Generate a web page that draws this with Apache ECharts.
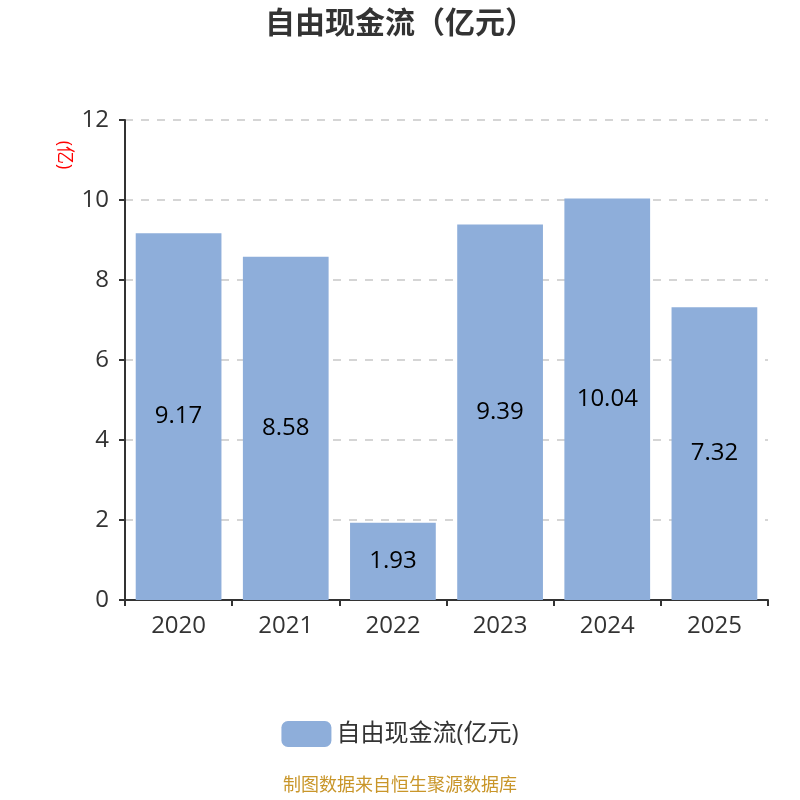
<!DOCTYPE html>
<html lang="zh-CN" style="height: 100%">
<head>
  <meta charset="utf-8">
</head>
<body style="height: 100%; margin: 0">
  <div id="container" style="width: 800px; height: 800px"></div>
  <script type="text/javascript" src="https://cdn.jsdelivr.net/npm/echarts@6/dist/echarts.min.js"></script>
  <script type="text/javascript">
    var years = ['2020', '2021', '2022', '2023', '2024', '2025'];
    var cashFlow = [9.17, 8.58, 1.93, 9.39, 10.04, 7.32];
    var seriesName = '自由现金流(亿元)';

    var myChart = echarts.init(document.getElementById('container'), null, { renderer: 'canvas' });
    var font = '"Open Sans", "Noto Sans CJK SC", sans-serif';

    var option = {
      animation: false,
      textStyle: { fontFamily: font },
      title: {
        text: '自由现金流（亿元）',
        left: 'center',
        top: 4,
        textStyle: { fontSize: 30, fontWeight: 'bold', color: '#333', fontFamily: font }
      },
      grid: { left: 125, right: 32, top: 120, bottom: 200 },
      legend: {
        bottom: 48,
        left: 'center',
        itemWidth: 50,
        itemHeight: 26,
        itemGap: 10,
        icon: 'roundRect',
        textStyle: { fontSize: 24, color: '#333', fontFamily: font },
        data: [seriesName]
      },
      graphic: [
        {
          type: 'text',
          x: 64, y: 155,
          rotation: -Math.PI / 2,
          style: { text: '(亿)', fill: '#ff0000', fontSize: 18, align: 'center', verticalAlign: 'middle', fontFamily: font }
        },
        {
          type: 'text',
          left: 'center',
          top: 777,
          style: { text: '制图数据来自恒生聚源数据库', fill: '#c9962a', fontSize: 18, fontFamily: font }
        }
      ],
      xAxis: {
        type: 'category',
        data: years,
        axisLine: { lineStyle: { color: '#333', width: 2 } },
        axisTick: { show: true, length: 6, lineStyle: { color: '#333', width: 2 } },
        axisLabel: { fontSize: 24, color: '#333', margin: 14 }
      },
      yAxis: {
        type: 'value',
        min: 0,
        max: 12,
        interval: 2,
        axisLine: { show: true, lineStyle: { color: '#333', width: 2 } },
        axisTick: { show: true, length: 6, lineStyle: { color: '#333', width: 2 } },
        axisLabel: { fontSize: 24, color: '#333', margin: 16 },
        splitLine: { lineStyle: { color: '#c8c8c8', type: [8, 8], width: 1.5 } }
      },
      series: [
        {
          name: seriesName,
          type: 'bar',
          data: cashFlow,
          barWidth: '80%',
          itemStyle: { color: '#8eaeda' },
          label: {
            show: true,
            position: 'inside',
            fontSize: 24,
            color: '#000',
            fontFamily: font
          }
        }
      ]
    };
    myChart.setOption(option);
  </script>
</body>
</html>
